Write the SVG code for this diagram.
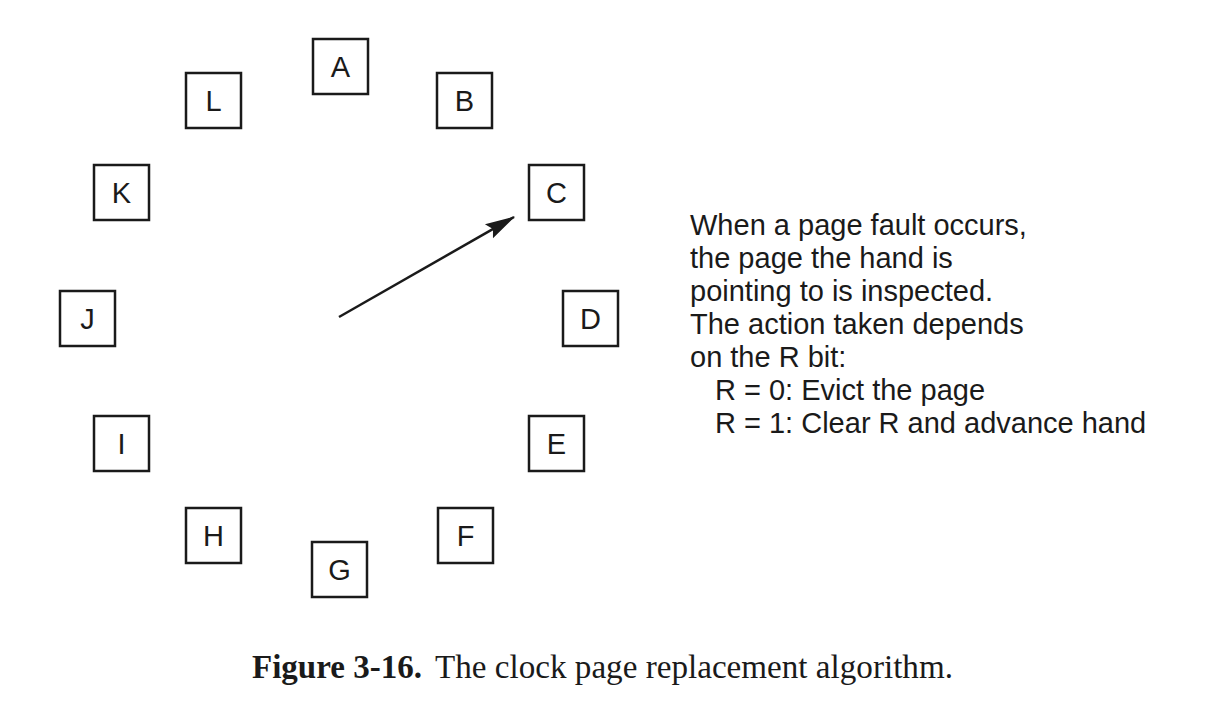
<svg xmlns="http://www.w3.org/2000/svg" width="1226" height="704" viewBox="0 0 1226 704">
<defs>
<style>
.box rect{fill:#fff;stroke:#1a1a1a;stroke-width:2.5}
.box text{font-family:"Liberation Sans",Arial,sans-serif;font-size:29px;fill:#1a1a1a;text-anchor:middle}
.note{font-family:"Liberation Sans",Arial,sans-serif;font-size:29px;fill:#1a1a1a}
.cap{font-family:"Liberation Serif","Times New Roman",serif;font-size:33px;fill:#1a1a1a}
</style>
<marker id="ah" markerUnits="userSpaceOnUse" markerWidth="30" markerHeight="20" viewBox="0 0 26 14" refX="25" refY="7" orient="auto">
<path d="M0,0 L26,7 L0,14 L4,7 Z" fill="#1a1a1a"/>
</marker>
</defs>
<rect width="1226" height="704" fill="#fff"/>
<g id="node-A" class="box"><rect x="313" y="39" width="55" height="55"/><text x="340.5" y="77">A</text></g>
<g id="node-B" class="box"><rect x="437" y="73" width="55" height="55"/><text x="464.5" y="111">B</text></g>
<g id="node-C" class="box"><rect x="529" y="165" width="55" height="55"/><text x="556.5" y="203">C</text></g>
<g id="node-D" class="box"><rect x="563" y="291" width="55" height="55"/><text x="590.5" y="329">D</text></g>
<g id="node-E" class="box"><rect x="529" y="416" width="55" height="55"/><text x="556.5" y="454">E</text></g>
<g id="node-F" class="box"><rect x="438" y="508" width="55" height="55"/><text x="465.5" y="546">F</text></g>
<g id="node-G" class="box"><rect x="312" y="542" width="55" height="55"/><text x="339.5" y="580">G</text></g>
<g id="node-H" class="box"><rect x="186" y="508" width="55" height="55"/><text x="213.5" y="546">H</text></g>
<g id="node-I" class="box"><rect x="94" y="416" width="55" height="55"/><text x="121.5" y="454">I</text></g>
<g id="node-J" class="box"><rect x="60" y="291" width="55" height="55"/><text x="87.5" y="329">J</text></g>
<g id="node-K" class="box"><rect x="94" y="165" width="55" height="55"/><text x="121.5" y="203">K</text></g>
<g id="node-L" class="box"><rect x="186" y="73" width="55" height="55"/><text x="213.5" y="111">L</text></g>
<g id="connectors">
<line x1="339" y1="317" x2="514" y2="217" stroke="#1a1a1a" stroke-width="2.5" marker-end="url(#ah)"/>
</g>
<g id="note" class="note">
<text x="690" y="235">When a page fault occurs,</text>
<text x="690" y="268">the page the hand is</text>
<text x="690" y="301">pointing to is inspected.</text>
<text x="690" y="334">The action taken depends</text>
<text x="690" y="367">on the R bit:</text>
<text x="715" y="400">R = 0: Evict the page</text>
<text x="715" y="433">R = 1: Clear R and advance hand</text>
</g>
<g id="caption" class="cap">
<text x="252" y="678" font-weight="bold" textLength="170" lengthAdjust="spacingAndGlyphs">Figure 3-16.</text>
<text x="435" y="678" textLength="518" lengthAdjust="spacingAndGlyphs">The clock page replacement algorithm.</text>
</g>
</svg>
